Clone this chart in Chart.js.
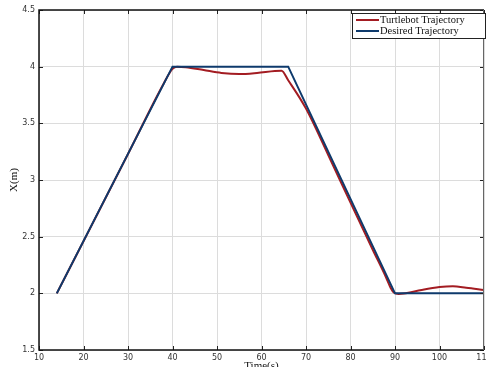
<!DOCTYPE html>
<html>
<head>
<meta charset="utf-8">
<script src="https://cdn.jsdelivr.net/npm/chart.js@4"></script>
<style>
  html, body { margin: 0; padding: 0; background: #fff; }
  #wrap { width: 486px; height: 367px; }
</style>
</head>
<body>
<div id="wrap"><canvas id="myChart" width="486" height="367"></canvas></div>
<script>
// time (s) and X (m) for both trajectories
const robotTime = [14, 20, 30, 38, 40, 41, 43, 47, 51, 55, 59, 63, 64.5, 66, 70, 75, 80, 85, 88, 89, 89.8, 90.8, 92, 96, 100, 103, 106, 110];
const robotX    = [2.0, 2.46, 3.23, 3.85, 3.98, 4.0, 3.995, 3.97, 3.945, 3.935, 3.945, 3.962, 3.965, 3.88, 3.63, 3.22, 2.8, 2.385, 2.14, 2.05, 2.005, 1.995, 1.998, 2.03, 2.055, 2.062, 2.05, 2.03];
const desiredTime = [14, 40, 66, 90, 110];
const desiredX    = [2, 4, 4, 2, 2];
const xTicks = [10, 20, 30, 40, 50, 60, 70, 80, 90, 100, 110];
const yTicks = [1.5, 2, 2.5, 3, 3.5, 4, 4.5];

const red = '#a31c22';
const navy = '#0e3a6c';

const toPoints = (xs, ys) => xs.map((x, i) => ({x: x, y: ys[i]}));

// box round the plot plus inward tick marks
const frame = {
    id: 'frame',
    afterDatasetsDraw(chart) {
        const {ctx, chartArea: a, scales} = chart;
        ctx.save();
        ctx.strokeStyle = '#222';
        ctx.lineWidth = 1;
        ctx.beginPath();
        xTicks.forEach(v => {
            const px = Math.round(scales.x.getPixelForValue(v)) + 0.5;
            ctx.moveTo(px, a.bottom); ctx.lineTo(px, a.bottom - 4);
            ctx.moveTo(px, a.top); ctx.lineTo(px, a.top + 4);
        });
        yTicks.forEach(v => {
            const py = Math.round(scales.y.getPixelForValue(v)) + 0.5;
            ctx.moveTo(a.left, py); ctx.lineTo(a.left + 4, py);
            ctx.moveTo(a.right, py); ctx.lineTo(a.right - 4, py);
        });
        ctx.stroke();
        ctx.strokeStyle = '#111';
        ctx.lineWidth = 1.5;
        ctx.beginPath();
        ctx.moveTo(a.right, a.bottom); ctx.lineTo(a.left, a.bottom);
        ctx.lineTo(a.left, a.top); ctx.lineTo(a.right, a.top);
        ctx.stroke();
        ctx.strokeStyle = '#666';
        ctx.lineWidth = 1;
        ctx.beginPath();
        ctx.moveTo(a.right - 0.5, a.top); ctx.lineTo(a.right - 0.5, a.bottom);
        ctx.stroke();
        ctx.restore();
    }
};

// legend box in the top right corner
const boxLegend = {
    id: 'boxLegend',
    afterDraw(chart) {
        const {ctx} = chart;
        const x0 = 352, y0 = 13, w = 133, h = 25;
        ctx.save();
        ctx.fillStyle = '#fff';
        ctx.fillRect(x0, y0, w, h);
        ctx.strokeStyle = '#222';
        ctx.lineWidth = 1;
        ctx.strokeRect(x0 + 0.5, y0 + 0.5, w, h);
        ctx.font = '10.5px "Liberation Serif", serif';
        ctx.textBaseline = 'middle';
        chart.data.datasets.forEach((ds, i) => {
            const y = y0 + 7 + i * 11;
            ctx.strokeStyle = ds.borderColor;
            ctx.lineWidth = 2;
            ctx.beginPath();
            ctx.moveTo(x0 + 4, y); ctx.lineTo(x0 + 27, y);
            ctx.stroke();
            ctx.fillStyle = '#111';
            ctx.fillText(ds.label, x0 + 28, y + 0.5);
        });
        ctx.restore();
    }
};

const line = {
    type: 'line',
    data: {
        datasets: [
            {
                label: 'Turtlebot Trajectory',
                data: toPoints(robotTime, robotX),
                borderColor: red,
                borderWidth: 2,
                pointRadius: 0,
                cubicInterpolationMode: 'monotone',
                order: 1
            },
            {
                label: 'Desired Trajectory',
                data: toPoints(desiredTime, desiredX),
                borderColor: navy,
                borderWidth: 2,
                pointRadius: 0,
                tension: 0,
                order: 0
            }
        ]
    },
    options: {
        responsive: false,
        animation: false,
        layout: {padding: {top: 10, right: 2, left: 0, bottom: 0}},
        plugins: {legend: {display: false}, tooltip: {enabled: false}},
        scales: {
            x: {
                type: 'linear', min: 10, max: 110,
                afterBuildTicks: s => { s.ticks = xTicks.map(v => ({value: v})); },
                afterFit: s => { s.height = 17; s.paddingRight = 0; s.paddingLeft = 0; },
                grid: {color: '#dcdcdc', drawTicks: false},
                border: {display: false},
                ticks: {padding: 3, maxRotation: 0, font: {size: 8, family: 'DejaVu Sans'}, color: '#333'},
                title: {display: true, text: 'Time(s)', font: {size: 11, family: 'Liberation Serif'}, color: '#111', padding: {top: 0, bottom: -6}}
            },
            y: {
                min: 1.5, max: 4.5,
                afterBuildTicks: s => { s.ticks = yTicks.map(v => ({value: v})); },
                afterFit: s => { s.width = 39; },
                grid: {color: '#dcdcdc', drawTicks: false},
                border: {display: false},
                ticks: {padding: 4, font: {size: 8, family: 'DejaVu Sans'}, color: '#333', callback: v => String(v)},
                title: {display: true, text: 'X(m)', font: {size: 11, family: 'Liberation Serif'}, color: '#111', padding: {top: 8, bottom: 0}}
            }
        }
    },
    plugins: [frame, boxLegend]
};

new Chart(document.getElementById('myChart'), line);
</script>
</body>
</html>
